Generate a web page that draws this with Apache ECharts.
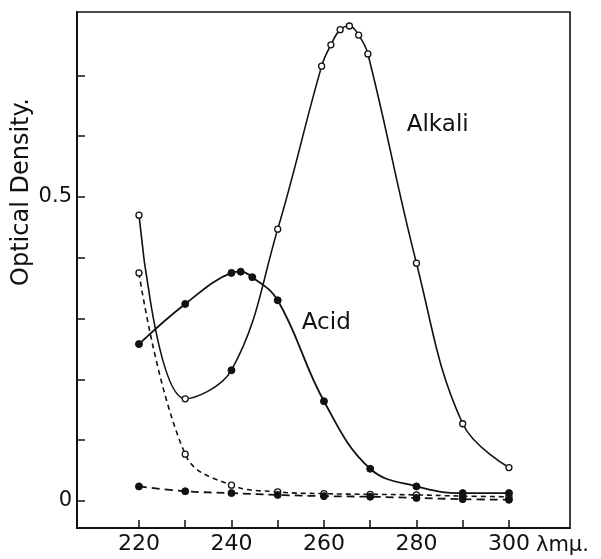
<!DOCTYPE html>
<html>
<head>
<meta charset="utf-8">
<script src="https://cdn.jsdelivr.net/npm/echarts@6/dist/echarts.min.js"></script>
<style>
html, body { margin: 0; padding: 0; background: #fff; }
#Chart { width: 601px; height: 559px; }
</style>
</head>
<body>
<div id="Chart"></div>
<script>
// data
var alkaliX = [220, 230, 240, 250, 259.5, 261.5, 263.5, 265.5, 267.5, 269.5, 280, 290, 300];
var alkaliY = [0.470, 0.168, 0.215, 0.447, 0.715, 0.750, 0.775, 0.781, 0.766, 0.735, 0.391, 0.127, 0.055];
var acidX = [220, 230, 240, 242, 244.5, 250, 260, 270, 280, 290, 300];
var acidY = [0.258, 0.324, 0.375, 0.377, 0.368, 0.330, 0.164, 0.053, 0.024, 0.013, 0.013];
var blankX = [220, 230, 240, 250, 260, 270, 280, 290, 300];
var alkaliBlankY = [0.375, 0.077, 0.026, 0.015, 0.012, 0.011, 0.010, 0.008, 0.007];
var acidBlankY = [0.024, 0.016, 0.013, 0.010, 0.008, 0.007, 0.005, 0.003, 0.002];

var xTicks = [220, 230, 240, 250, 260, 270, 280, 290, 300];
var xLabels = [220, 240, 260, 280, 300];
var yTicks = [0, 0.1, 0.2, 0.3, 0.4, 0.5, 0.6, 0.7];
var yLabels = [0, 0.5];

var font = 'DejaVu Sans';
var ink = '#111';

function pairs(xs, ys) {
    return xs.map(function (x, i) { return [x, ys[i]]; });
}

var openDot = { color: '#fff', borderColor: ink, borderWidth: 1.3 };
var fullDot = { color: ink, borderColor: ink, borderWidth: 1 };

var Chart = function () {
    var myChart = echarts.init(document.getElementById('Chart'));

    // alkali curve has one filled point at 240
    var alkaliData = pairs(alkaliX, alkaliY).map(function (p) {
        if (p[0] === 240) {
            return { value: p, itemStyle: fullDot, symbolSize: 7 };
        }
        return p;
    });

    var option = {
        backgroundColor: '#fff',
        animation: false,
        grid: {
            show: true,
            left: 77,
            right: 31,
            top: 12,
            bottom: 31,
            borderColor: ink,
            borderWidth: 1.6
        },
        xAxis: {
            type: 'value',
            min: 206.6,
            max: 313.2,
            axisLine: { show: true, onZero: false, lineStyle: { color: ink, width: 2 } },
            axisTick: {
                show: true,
                inside: true,
                length: 8,
                customValues: xTicks,
                lineStyle: { color: ink, width: 1.5 }
            },
            axisLabel: {
                customValues: xLabels,
                margin: 5,
                color: ink,
                fontFamily: font,
                fontSize: 22
            },
            splitLine: { show: false }
        },
        yAxis: {
            type: 'value',
            min: -0.0444,
            max: 0.804,
            axisLine: { show: true, onZero: false, lineStyle: { color: ink, width: 2 } },
            axisTick: {
                show: true,
                inside: true,
                length: 8,
                customValues: yTicks,
                lineStyle: { color: ink, width: 1.5 }
            },
            axisLabel: {
                customValues: yLabels,
                margin: 5,
                color: ink,
                fontFamily: font,
                fontSize: 21
            },
            splitLine: { show: false }
        },
        series: [
            {
                name: 'Alkali',
                type: 'line',
                smooth: 0.4,
                symbol: 'circle',
                symbolSize: 6,
                itemStyle: openDot,
                lineStyle: { color: ink, width: 1.6 },
                z: 3,
                data: alkaliData
            },
            {
                name: 'Acid',
                type: 'line',
                smooth: 0.4,
                symbol: 'circle',
                symbolSize: 7,
                itemStyle: fullDot,
                lineStyle: { color: ink, width: 1.8 },
                z: 3,
                data: pairs(acidX, acidY)
            },
            {
                name: 'Alkali blank',
                type: 'line',
                smooth: 0.4,
                symbol: 'circle',
                symbolSize: 6,
                itemStyle: openDot,
                lineStyle: { color: ink, width: 1.6, type: [5, 4] },
                z: 2,
                data: pairs(blankX, alkaliBlankY)
            },
            {
                name: 'Acid blank',
                type: 'line',
                smooth: 0.4,
                symbol: 'circle',
                symbolSize: 7,
                itemStyle: fullDot,
                lineStyle: { color: ink, width: 1.8, type: [8, 5] },
                z: 2,
                data: pairs(blankX, acidBlankY)
            }
        ]
    };
    myChart.setOption(option);

    // text placed in data coordinates
    var alkaliPos = myChart.convertToPixel({ gridIndex: 0 }, [277.9, 0.618]);
    var acidPos = myChart.convertToPixel({ gridIndex: 0 }, [255.2, 0.293]);
    var unitPos = myChart.convertToPixel({ gridIndex: 0 }, [300, -0.0444]);
    var textStyle = function (txt, size) {
        return { text: txt, fill: ink, font: size + 'px "' + font + '"', textVerticalAlign: 'middle' };
    };
    myChart.setOption({
        graphic: [
            { type: 'text', x: alkaliPos[0], y: alkaliPos[1], style: textStyle('Alkali', 23) },
            { type: 'text', x: acidPos[0], y: acidPos[1], style: textStyle('Acid', 23) },
            { type: 'text', x: unitPos[0] + 27, y: unitPos[1] + 18, style: textStyle('λmμ.', 21) },
            {
                type: 'text', x: 22, y: 192, rotation: Math.PI / 2,
                style: Object.assign(textStyle('Optical Density.', 24), { textAlign: 'center' })
            }
        ]
    });
};

Chart();
</script>
</body>
</html>
